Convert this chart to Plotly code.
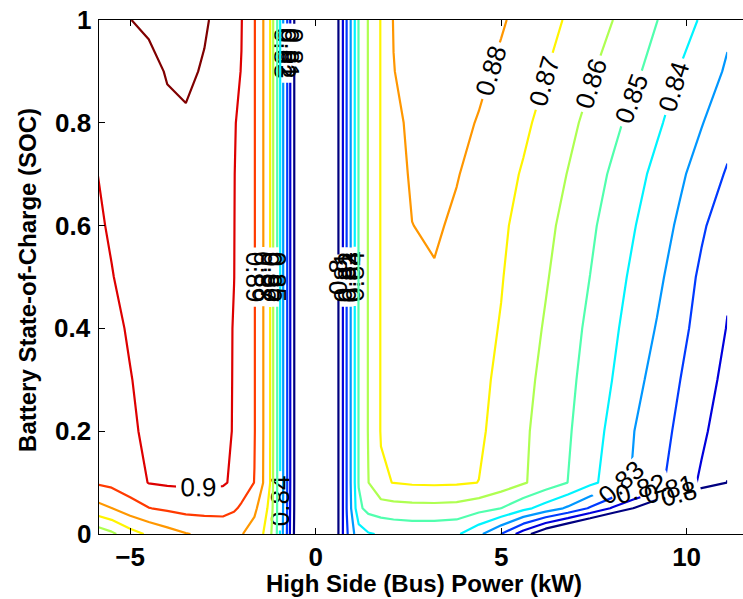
import plotly.graph_objects as go

# High side (bus) power, kW  (grid columns)
power_kw = [-6.0, -5.5, -5.0, -4.5, -4.0, -3.5, -3.0, -2.5, -2.2, -2.0,
            -1.65, -1.42, -1.23, -1.15, -1.04, -0.96, -0.88, -0.77, -0.69, -0.58, -0.5,
            0.5, 0.62, 0.74, 0.84, 0.95, 1.06, 1.16, 1.42, 1.76,
            2.1, 2.6, 3.2, 3.8, 4.4, 5.0, 5.6, 6.2, 6.8, 7.4, 8.0, 8.6, 9.2, 9.8, 10.4, 11.1]

# Battery state of charge (grid rows)
soc = [0.0, 0.05, 0.1, 0.2, 0.3, 0.4, 0.5, 0.6, 0.7, 0.8, 0.9, 1.0]

# Efficiency, one row per SOC value
eff = [
    [0.852, 0.858, 0.866, 0.8715, 0.876, 0.8795, 0.8815, 0.8825, 0.8818, 0.8805,
     0.876, 0.8702, 0.862, 0.8575, 0.8495, 0.8395, 0.8295, 0.8195, 0.8095, 0.7995, 0.79,
     0.79, 0.8005, 0.8105, 0.8185, 0.8255, 0.831, 0.835, 0.8392, 0.8408,
     0.842, 0.843, 0.8428, 0.8415, 0.8322, 0.8199, 0.8047, 0.7907, 0.78, 0.77, 0.76, 0.75, 0.74, 0.73, 0.72, 0.71],
    [0.8755, 0.8798, 0.8858, 0.8897, 0.8916, 0.8932, 0.8936, 0.8935, 0.8913, 0.8885,
     0.882, 0.875, 0.867, 0.859, 0.8502, 0.8402, 0.8302, 0.8202, 0.8102, 0.8002, 0.79,
     0.79, 0.8005, 0.8105, 0.8205, 0.8295, 0.8385, 0.848, 0.853, 0.8552,
     0.8562, 0.8568, 0.857, 0.8565, 0.8535, 0.8499, 0.8427, 0.8357, 0.8284, 0.8189, 0.809, 0.7993, 0.789, 0.779, 0.769, 0.758],
    [0.8905, 0.8925, 0.8955, 0.9003, 0.9012, 0.9015, 0.9015, 0.901, 0.8985, 0.8955,
     0.8898, 0.8802, 0.8702, 0.8602, 0.8505, 0.8405, 0.8305, 0.8205, 0.8105, 0.8005, 0.79,
     0.79, 0.8005, 0.8105, 0.8205, 0.8305, 0.8405, 0.8505, 0.8598, 0.8688,
     0.8702, 0.8712, 0.8715, 0.8712, 0.8699, 0.8655, 0.8609, 0.8556, 0.8499, 0.8425, 0.8355, 0.8287, 0.8223, 0.8156, 0.8085, 0.7998],
    [0.8932, 0.8955, 0.8988, 0.9015, 0.903, 0.9035, 0.9035, 0.902, 0.8995, 0.8962,
     0.8905, 0.8805, 0.8705, 0.8605, 0.8505, 0.8405, 0.8305, 0.8205, 0.8105, 0.8005, 0.79,
     0.79, 0.8005, 0.8105, 0.8205, 0.8305, 0.8405, 0.8505, 0.8605, 0.8705,
     0.8725, 0.8743, 0.8748, 0.8738, 0.8715, 0.8667, 0.8615, 0.8563, 0.8511, 0.8445, 0.8374, 0.8299, 0.8241, 0.8181, 0.8119, 0.8042],
    [0.8945, 0.8965, 0.8997, 0.9022, 0.9038, 0.9043, 0.9042, 0.9025, 0.8995, 0.8965,
     0.8905, 0.8805, 0.8705, 0.8605, 0.8505, 0.8405, 0.8305, 0.8205, 0.8105, 0.8005, 0.79,
     0.79, 0.8005, 0.8105, 0.8205, 0.8305, 0.8405, 0.8505, 0.8605, 0.8705,
     0.873, 0.8752, 0.8758, 0.8745, 0.8722, 0.8681, 0.8628, 0.8575, 0.8523, 0.8463, 0.8399, 0.8329, 0.8264, 0.8203, 0.8143, 0.8073],
    [0.896, 0.8982, 0.9008, 0.903, 0.9045, 0.905, 0.9048, 0.903, 0.8995, 0.8966,
     0.8905, 0.8805, 0.8705, 0.8605, 0.8505, 0.8405, 0.8305, 0.8205, 0.8105, 0.8005, 0.79,
     0.79, 0.8005, 0.8105, 0.8205, 0.8305, 0.8405, 0.8505, 0.8605, 0.8705,
     0.8738, 0.8763, 0.8768, 0.8752, 0.8728, 0.8695, 0.8643, 0.8591, 0.8536, 0.848, 0.8418, 0.8357, 0.8294, 0.8228, 0.8165, 0.8096],
    [0.8975, 0.8997, 0.9022, 0.904, 0.9052, 0.9058, 0.9055, 0.9035, 0.9001, 0.8967,
     0.8905, 0.8805, 0.8705, 0.8605, 0.8505, 0.8405, 0.8305, 0.8205, 0.8105, 0.8005, 0.79,
     0.79, 0.8005, 0.8105, 0.8205, 0.8305, 0.8405, 0.8505, 0.8605, 0.8705,
     0.8745, 0.878, 0.8793, 0.8772, 0.874, 0.8705, 0.8658, 0.8608, 0.8554, 0.8499, 0.8438, 0.8379, 0.8322, 0.8253, 0.8182, 0.8112],
    [0.8985, 0.9008, 0.903, 0.9045, 0.9058, 0.9065, 0.906, 0.904, 0.9002, 0.8968,
     0.8905, 0.8805, 0.8705, 0.8605, 0.8505, 0.8405, 0.8305, 0.8205, 0.8105, 0.8005, 0.79,
     0.79, 0.8005, 0.8105, 0.8205, 0.8305, 0.8405, 0.8505, 0.8605, 0.8705,
     0.875, 0.8799, 0.8812, 0.8785, 0.875, 0.8715, 0.8672, 0.8624, 0.8572, 0.8517, 0.846, 0.8403, 0.8346, 0.8286, 0.8214, 0.8142],
    [0.8995, 0.9015, 0.9035, 0.905, 0.9063, 0.907, 0.9065, 0.9045, 0.9003, 0.897,
     0.8905, 0.8805, 0.8705, 0.8605, 0.8505, 0.8405, 0.8305, 0.8205, 0.8105, 0.8005, 0.79,
     0.79, 0.8005, 0.8105, 0.8205, 0.8305, 0.8405, 0.8505, 0.8605, 0.8705,
     0.876, 0.8812, 0.8825, 0.8805, 0.8769, 0.8731, 0.8692, 0.8645, 0.8597, 0.8542, 0.8487, 0.8431, 0.8375, 0.8318, 0.8259, 0.819],
    [0.9008, 0.9025, 0.904, 0.9055, 0.907, 0.9085, 0.907, 0.905, 0.9008, 0.8975,
     0.8905, 0.8805, 0.8705, 0.8605, 0.8505, 0.8405, 0.8305, 0.8205, 0.8105, 0.8005, 0.79,
     0.79, 0.8005, 0.8105, 0.8205, 0.8305, 0.8405, 0.8505, 0.8605, 0.8705,
     0.877, 0.8825, 0.884, 0.8825, 0.8794, 0.8755, 0.8717, 0.8673, 0.8624, 0.8575, 0.8524, 0.847, 0.8415, 0.836, 0.8305, 0.8238],
    [0.902, 0.9035, 0.9045, 0.9058, 0.911, 0.9124, 0.9088, 0.905, 0.9015, 0.8998,
     0.8905, 0.8805, 0.8705, 0.8605, 0.8505, 0.8405, 0.8305, 0.8205, 0.8105, 0.8005, 0.79,
     0.79, 0.8005, 0.8105, 0.8205, 0.8305, 0.8405, 0.8505, 0.8605, 0.8705,
     0.8797, 0.884, 0.886, 0.885, 0.882, 0.8782, 0.8742, 0.8703, 0.8657, 0.861, 0.8564, 0.8518, 0.846, 0.8397, 0.8348, 0.8288],
    [0.903, 0.906, 0.9098, 0.9125, 0.9135, 0.9138, 0.9115, 0.9055, 0.9025, 0.9003,
     0.8905, 0.8805, 0.8705, 0.8605, 0.8505, 0.8405, 0.8305, 0.8205, 0.8105, 0.8005, 0.79,
     0.79, 0.8005, 0.8105, 0.8205, 0.8305, 0.8405, 0.8505, 0.8605, 0.8705,
     0.8805, 0.885, 0.887, 0.886, 0.884, 0.881, 0.877, 0.8731, 0.869, 0.8646, 0.8601, 0.8552, 0.8502, 0.8447, 0.839, 0.832],
]

# contour levels and their (MATLAB jet) colours
contour_levels = [0.80, 0.81, 0.82, 0.83, 0.84, 0.85, 0.86, 0.87, 0.88, 0.89, 0.90, 0.91]
level_colors = ["rgb(0,0,128)", "rgb(0,0,221)", "rgb(0,58,255)", "rgb(0,151,255)",
                "rgb(0,244,255)", "rgb(81,255,174)", "rgb(174,255,81)", "rgb(255,244,0)",
                "rgb(255,151,0)", "rgb(255,58,0)", "rgb(221,0,0)", "rgb(128,0,0)"]

x_ticks = [-5, 0, 5, 10]
y_ticks = [0, 0.2, 0.4, 0.6, 0.8, 1.0]
y_ticktext = ["0", "0.2", "0.4", "0.6", "0.8", "1"]

FONT = "Liberation Sans, Arial, Helvetica, sans-serif"

fig = go.Figure()
for lev, col in zip(contour_levels, level_colors):
    fig.add_trace(go.Contour(
        x=power_kw, y=soc, z=eff,
        autocontour=False,
        contours=dict(start=lev, end=lev, size=0.01,
                      coloring="none", showlabels=True,
                      labelfont=dict(family=FONT, size=26, color="black"),
                      labelformat=".2~f"),
        line=dict(width=2.2, smoothing=0, color=col),
        showscale=False, hoverinfo="skip",
    ))

annotations = [
    dict(text="High Side (Bus) Power (kW)", xref="paper", yref="paper",
         x=0.504, y=-0.097, xanchor="center", yanchor="middle", showarrow=False,
         font=dict(family=FONT, size=24, color="black", weight="bold")),
    dict(text="Battery State-of-Charge (SOC)", xref="paper", yref="paper",
         x=-0.112, y=0.494, xanchor="center", yanchor="middle", showarrow=False,
         textangle=-90,
         font=dict(family=FONT, size=24, color="black", weight="bold")),
]
# y tick labels, right-aligned just left of the axis
for v, t in zip(y_ticks, y_ticktext):
    annotations.append(dict(text=t, xref="paper", yref="y", x=0, y=v,
                            xanchor="right", yanchor="middle", xshift=-6,
                            showarrow=False,
                            font=dict(family=FONT, size=26, color="black", weight="bold")))

fig.update_layout(
    width=743, height=599,
    margin=dict(l=99, r=0, t=20, b=65),
    paper_bgcolor="white", plot_bgcolor="white",
    showlegend=False,
    font=dict(family=FONT, color="black"),
    xaxis=dict(range=[-5.84, 11.52], tickvals=x_ticks, ticks="inside", ticklen=6,
               tickcolor="black", showline=True, linecolor="black", linewidth=1,
               mirror="ticks", showgrid=False, zeroline=False,
               tickfont=dict(family=FONT, size=26, color="black", weight="bold")),
    yaxis=dict(range=[0, 1], tickvals=y_ticks, showticklabels=False, ticks="inside",
               ticklen=6, tickcolor="black", showline=True, linecolor="black",
               linewidth=1, mirror=False, showgrid=False, zeroline=False),
    annotations=annotations,
)

fig.write_html("out.html")
